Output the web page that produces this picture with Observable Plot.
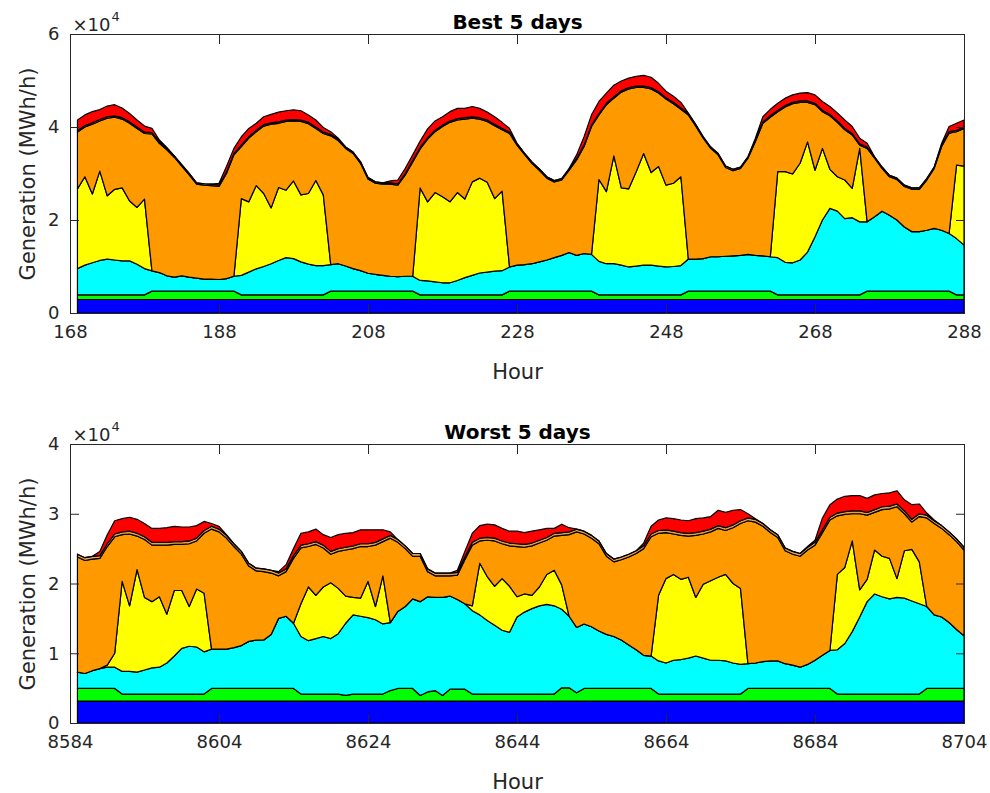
<!DOCTYPE html>
<html>
<head>
<meta charset="utf-8">
<script src="https://cdn.jsdelivr.net/npm/d3@7"></script>
<script src="https://cdn.jsdelivr.net/npm/@observablehq/plot@0.6"></script>
<style>
  html, body { margin: 0; padding: 0; background: #fff; }
  #chart { width: 990px; }
  #chart svg { display: block; }
</style>
</head>
<body>
<div id="chart"></div>
<script>
// ---------- layer definitions ----------
const layerNames  = ["Nuclear", "Hydro", "Wind", "Solar", "Thermal", "Other", "Peaking"];
const layerColors = ["#0000ff", "#00ff00", "#00ffff", "#ffff00", "#ff9900", "#e9a04a", "#ff0000"];

// ---------- Best 5 days (hours 169..288), MWh/h ----------
const bestHours = d3.range(169, 289);
const bestNuclear = 2900;
const bestOther = 300;
const bestHydro = [
  1000,1000,1000,1000,1000,1000,1000,1000,1000,1000,
  1800,1800,1800,1800,1800,1800,1800,1800,1800,1800,1800,1800,
  1000,1000,1000,1000,1000,1000,1000,1000,1000,1000,1000,1000,
  1800,1800,1800,1800,1800,1800,1800,1800,1800,1800,1800,1800,
  1000,1000,1000,1000,1000,1000,1000,1000,1000,1000,1000,1000,
  1800,1800,1800,1800,1800,1800,1800,1800,1800,1800,1800,1800,
  1000,1000,1000,1000,1000,1000,1000,1000,1000,1000,1000,1000,
  1800,1800,1800,1800,1800,1800,1800,1800,1800,1800,1800,1800,
  1000,1000,1000,1000,1000,1000,1000,1000,1000,1000,1000,1000,
  1800,1800,1800,1800,1800,1800,1800,1800,1800,1800,1800,1800,
  1000,1000
];
const bestWind = [
  5650,6400,6900,7400,7700,7500,7300,7300,6600,5650,
  4350,4000,3300,3000,3300,3000,2800,2600,2600,2500,2700,3200,
  4200,4900,5600,6100,6700,7400,8000,7800,7100,6600,6300,6300,
  5700,5900,5400,4850,4400,3850,3600,3400,3200,3100,3200,3200,
  3100,3000,2800,2600,2600,3100,3700,4200,4700,4900,5100,5200,
  5200,5600,5700,5900,6300,6700,7200,7700,8300,7700,8100,7900,
  7200,6700,6700,6400,6000,6200,6400,6400,6200,6000,6100,6300,
  6900,6900,7000,7400,7400,7500,7600,7700,7900,7700,7600,7400,
  8000,7000,6900,7500,9200,12500,16100,18600,18000,16400,16600,15700,
  14900,16000,17200,16300,15300,13800,12800,12800,13100,13500,13100,12400,
  12100,10700
];
const bestSolar = [
  17150,19000,14800,19200,13600,15200,15700,12900,12200,14950,
  0,0,0,0,0,0,0,0,0,0,0,0,
  16500,15100,17900,15700,12000,15700,14500,16700,14400,15200,18300,15200,
  0,0,0,0,0,0,0,0,0,0,0,0,
  19900,17000,19200,18500,17400,18900,16900,20100,20400,19300,15600,17100,
  0,0,0,0,0,0,0,0,0,0,0,0,
  17600,15500,23200,16600,16800,20300,24000,19900,21400,17600,17900,19100,
  0,0,0,0,0,0,0,0,0,0,0,0,
  18500,19500,19100,20800,23700,14300,15400,8400,7400,8300,6300,15800,
  0,0,0,0,0,0,0,0,0,0,0,0,
  15800,17000
];
const bestThermal = [
  12200,10700,15000,10800,16700,15500,14800,16700,17000,14100,
  29450,27800,27100,25800,23600,22000,20200,20200,20100,20000,22600,26100,
  11200,13700,11600,14500,18000,13800,14800,12900,15800,15000,11200,13200,
  27700,26500,25300,24750,23100,20250,19600,19600,19800,19700,21800,24600,
  8400,13500,13100,15100,17100,15600,17200,13700,12700,13100,15700,13200,
  28700,25800,23700,21600,19700,17600,16300,16200,17700,20500,23000,27500,
  13900,18700,12400,20600,21500,18100,14200,18000,15800,18500,17100,14500,
  31000,28600,25900,23300,21900,19100,18300,18700,20700,24500,28500,30000,
  12900,13900,15100,13100,8500,14100,7900,11500,11700,10800,11500,700,
  15800,12600,9200,8300,8700,8700,9100,9100,10800,12900,18000,21600,
  7200,8100
];
const bestPeaking = [
  2300,2300,2400,2150,2300,2400,2100,1800,1500,1300,
  900,400,200,0,0,0,0,0,0,400,1200,1100,
  1800,1800,1500,1700,1800,2100,2000,2100,2000,1600,1500,1000,
  600,200,0,0,0,100,0,0,400,800,1100,1200,
  1400,1900,2000,1800,2000,2200,2000,2200,2000,1700,1600,1300,
  800,100,0,0,0,0,0,0,100,800,1800,2200,
  2600,2200,2500,2100,2000,2100,2300,2200,1800,1400,1300,1200,
  100,0,0,0,0,0,0,0,0,400,1100,1400,
  1500,1600,1600,1700,1800,1800,1900,1700,1700,1800,1500,1200,
  800,0,0,0,0,0,0,0,0,0,400,1100,
  1500,1500
];

// ---------- Worst 5 days (hours 8585..8704), MWh/h ----------
const worstHours = d3.range(8585, 8705);
const worstNuclear = 3150;
const worstOther = 400;
const worstHydro = [
  1800,1800,1800,1800,1800,1800,
  1000,1000,1000,1000,1000,1000,1000,1000,1000,1000,1000,1000,
  1800,1800,1800,1800,1800,1800,1800,1800,1800,1800,1800,1800,
  1000,1000,1000,1000,1000,1000,800,1000,1000,1000,1000,1000,
  1500,1800,1800,1800,800,1300,1500,800,1700,1700,1700,
  1000,1000,1000,1000,1000,1000,1000,1000,1000,1000,1000,1000,
  1900,1900,1200,1800,1800,1800,1800,1800,1800,1800,1800,1800,1800,
  1000,1000,1000,1000,1000,1000,1000,1000,1000,1000,1000,1000,
  1800,1800,1800,1800,1800,1800,1800,1800,1800,1800,1800,1800,
  1000,1000,1000,1000,1000,1000,1000,1000,1000,1000,1000,1000,
  1800,1800,1800,1800,1800,1800
];
const worstWind = [
  2350,2150,2550,2850,3050,3050,3250,3250,3150,3450,3750,3850,
  4450,5450,6550,6850,6750,6050,5650,5650,5650,5850,6150,6750,
  6950,6950,7750,10050,10350,9350,8250,7650,7950,8250,7950,8650,
  10350,11350,11150,10950,10650,10050,9750,11050,11750,12850,13450,13650,
  13350,14050,13350,12850,12250,11950,11350,10550,9850,9150,8850,11050,
  11750,12250,12650,12850,12650,11250,10250,9350,9250,8850,8250,7750,
  7450,6950,6250,5550,4750,4650,4750,4450,4850,4950,5150,5450,
  5150,4850,4850,4750,4450,4250,3550,3650,3850,3950,3950,3550,
  3350,3050,3450,4050,4750,5450,6350,7250,8950,11050,13250,14350,
  13950,13650,13850,13750,13350,12950,11750,10550,10250,9450,8450,7550
];
const worstSolar = [
  0,0,0,0,300,2000,12900,9400,14700,10400,9500,10100,
  7000,9400,8300,5700,8300,8400,0,0,0,0,0,0,
  0,0,0,0,0,0,4700,7700,6200,7100,8000,6500,
  3900,2500,2600,5200,1900,6900,0,0,0,0,0,0,
  0,0,0,0,0,700,7400,6300,5600,7400,6600,2900,
  2600,1900,2700,4300,5100,3500,0,0,0,0,0,0,
  0,0,0,0,0,0,9400,12100,12300,11500,11600,8400,
  10600,11400,11900,12400,11400,10900,0,0,0,0,0,0,
  0,0,0,0,0,0,10800,10900,13000,3900,3200,6300,
  5800,5800,2700,6800,7400,6000,0,0,0,0,0,0
];
const worstThermal = [
  16500,16200,16000,15800,17000,16700,6700,10300,4800,8300,8100,7400,
  9900,6600,6600,9000,6900,8600,17200,16800,15900,14500,13100,10800,
  9900,9800,8800,6100,6400,9300,8000,5800,7300,5600,4100,5300,
  6600,7000,7400,5000,8800,4900,12100,9900,8300,6100,6500,3600,
  3100,3100,2900,3500,6300,8700,3200,5200,6500,5000,5800,7200,
  6700,7100,6300,4900,4900,7100,11700,13700,12900,12700,12500,11200,
  10700,11500,12600,13800,15300,17100,8900,6600,5800,6300,5900,8900,
  7200,7000,7000,6300,8000,9300,20500,20200,19400,18400,17700,16200,
  15900,15900,16400,16500,17600,18700,8400,7600,3900,10900,9200,5400,
  6700,7100,10300,5300,3900,6500,12700,13100,12700,12600,12600,12300
];
const worstPeaking = [
  0,0,0,600,1300,1900,1900,2000,2000,1900,2000,2000,
  2100,2200,2100,2000,1800,1300,400,400,100,0,0,0,
  0,0,0,200,600,1000,1700,1700,1800,1500,2000,2000,
  2000,1900,2000,2000,1800,1300,500,0,0,0,0,0,
  0,0,0,300,800,1300,1800,1900,1900,1800,1700,1800,
  1700,1700,1500,1300,700,1200,600,0,0,0,0,0,
  0,0,0,0,400,1100,1500,1700,1800,1800,1800,2000,
  1900,1800,2200,2200,2100,1600,600,100,0,0,0,0,
  0,0,100,300,1700,1800,2000,2200,2200,2200,2000,2100,
  1900,1900,1900,1600,2100,1400,300,100,0,0,0,0
];

// ---------- axes ----------
const bestTicksX  = [168, 188, 208, 228, 248, 268, 288];
const worstTicksX = [8584, 8604, 8624, 8644, 8664, 8684, 8704];
const bestTicksY  = [0, 20000, 40000, 60000];
const worstTicksY = [0, 10000, 20000, 30000, 40000];

function toLong(hours, nuclear, hydro, wind, solar, thermal, other, peaking) {
  const series = [
    hours.map(() => nuclear), hydro, wind, solar, thermal, hours.map(() => other), peaking
  ];
  return series.flatMap((vals, k) =>
    hours.map((h, i) => ({hour: h, layer: layerNames[k], value: vals[i]})));
}

const FONT = "DejaVu Sans";
const TICK = 9;

function panel({title, data, xDomain, xTicks, yMax, yTicks, height, marginTop, marginBottom}) {
  return Plot.plot({
    width: 990,
    height,
    marginLeft: 70,
    marginRight: 26,
    marginTop,
    marginBottom,
    style: {fontFamily: FONT, fontSize: "18px", color: "#262626", background: "white", overflow: "visible"},
    x: {domain: xDomain},
    y: {domain: [0, yMax]},
    color: {domain: layerNames, range: layerColors},
    marks: [
      Plot.areaY(data, {x: "hour", y: "value", z: "layer", fill: "layer", stroke: "black", strokeWidth: 1.2, strokeLinejoin: "round"}),
      Plot.frame({stroke: "#262626", strokeWidth: 1}),
      // tick labels
      Plot.axisX({ticks: xTicks, tickSize: 0, tickPadding: 12, tickFormat: d => String(d), label: null, fontSize: 18}),
      Plot.axisY({ticks: yTicks, tickSize: 0, tickPadding: 11, tickFormat: d => String(d / 1e4), label: null, fontSize: 18}),
      // inward tick marks on all four sides
      Plot.axisX({ticks: xTicks, tickSize: TICK, dy: -TICK, tickFormat: () => "", label: null}),
      Plot.axisX({anchor: "top", ticks: xTicks, tickSize: TICK, dy: TICK, tickFormat: () => "", label: null}),
      Plot.axisY({ticks: yTicks, tickSize: TICK, dx: TICK, tickFormat: () => "", label: null}),
      Plot.axisY({anchor: "right", ticks: yTicks, tickSize: TICK, dx: -TICK, tickFormat: () => "", label: null}),
      // texts
      Plot.text([title], {frameAnchor: "top", lineAnchor: "middle", dy: -12, text: d => d, fontSize: 20, fontWeight: "bold", fill: "black"}),
      Plot.text(["×10"], {frameAnchor: "top-left", lineAnchor: "middle", textAnchor: "start", dx: 2, dy: -9, text: d => d, fontSize: 18}),
      Plot.text(["4"], {frameAnchor: "top-left", lineAnchor: "middle", textAnchor: "start", dx: 41, dy: -18, text: d => d, fontSize: 13}),
      Plot.text(["Generation (MWh/h)"], {frameAnchor: "left", lineAnchor: "middle", textAnchor: "middle", dx: -42, rotate: -90, text: d => d, fontSize: 21}),
      Plot.text(["Hour"], {frameAnchor: "bottom", lineAnchor: "middle", dy: 59, text: d => d, fontSize: 21})
    ]
  });
}

const chart = document.getElementById("chart");
chart.append(panel({
  title: "Best 5 days",
  data: toLong(bestHours, bestNuclear, bestHydro, bestWind, bestSolar, bestThermal, bestOther, bestPeaking),
  xDomain: [168, 288], xTicks: bestTicksX, yMax: 60000, yTicks: bestTicksY,
  height: 410, marginTop: 34, marginBottom: 97
}));
chart.append(panel({
  title: "Worst 5 days",
  data: toLong(worstHours, worstNuclear, worstHydro, worstWind, worstSolar, worstThermal, worstOther, worstPeaking),
  xDomain: [8584, 8704], xTicks: worstTicksX, yMax: 40000, yTicks: worstTicksY,
  height: 383, marginTop: 34, marginBottom: 70
}));
</script>
</body>
</html>
